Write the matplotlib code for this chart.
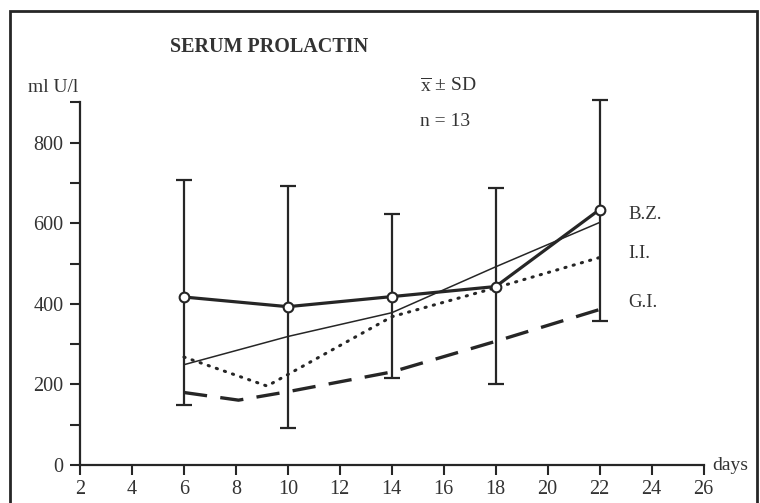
import matplotlib
matplotlib.use("Agg")
import matplotlib.pyplot as plt
from matplotlib.patches import Rectangle

plt.rcParams['font.family'] = ['Liberation Serif', 'DejaVu Serif']
plt.rcParams['mathtext.fontset'] = 'custom'
plt.rcParams['mathtext.rm'] = 'Liberation Serif'
plt.rcParams['mathtext.it'] = 'Liberation Serif:italic'

# ---- data ----
days = [6, 10, 14, 18, 22]
bz_mean = [417, 393, 418, 443, 634]
sd_upper = [708, 693, 622, 687, 905]
sd_lower = [150, 93, 217, 200, 357]

thin_days = [6, 10, 14, 18, 22]
thin_vals = [249, 319, 378, 492, 602]

ii_days = [6, 9.2, 14, 18, 22]
ii_vals = [268, 196, 368, 440, 515]

gi_days = [6, 8.1, 10, 14, 18, 22]
gi_vals = [180, 161, 182, 231, 307, 386]

x_ticks = list(range(2, 27, 2))
y_ticks = list(range(0, 901, 100))
y_labels = ['0', '', '200', '', '400', '', '600', '', '800', '']

series_labels = ['B.Z.', 'I.I.', 'G.I.']
label_y = [623, 525, 403]

INK = '#262626'
TXT = '#333333'

fig = plt.figure(figsize=(7.6, 5.03), dpi=100)
ax = fig.add_axes([0.1053, 0.0755, 0.8204, 0.7209])

# error bars
yerr = [[m - lo for m, lo in zip(bz_mean, sd_lower)],
        [hi - m for m, hi in zip(bz_mean, sd_upper)]]
eb = ax.errorbar(days, bz_mean, yerr=yerr, fmt='none', ecolor=INK,
                 elinewidth=1.6, capsize=6, capthick=1.6, zorder=2)
for artist in list(eb.lines[1]) + list(eb.lines[2]):
    artist.set_clip_on(False)

ax.plot(thin_days, thin_vals, color=INK, lw=1.1, zorder=3)
ax.plot(ii_days, ii_vals, color=INK, lw=2.2, linestyle=(0, (0.4, 2.4)),
        dash_capstyle='round', zorder=3)
ax.plot(gi_days, gi_vals, color=INK, lw=2.4, linestyle=(0, (7, 4)), zorder=3)
ax.plot(days, bz_mean, color=INK, lw=2.3, marker='o', markersize=7,
        markerfacecolor='white', markeredgecolor=INK, markeredgewidth=1.5,
        zorder=4, clip_on=False)

ax.set_xlim(2, 26)
ax.set_ylim(0, 900)
ax.spines['top'].set_visible(False)
ax.spines['right'].set_visible(False)
for s in ('left', 'bottom'):
    ax.spines[s].set_linewidth(1.6)
    ax.spines[s].set_color(INK)
ax.set_xticks(x_ticks)
ax.set_xticklabels([str(t) for t in x_ticks])
ax.set_yticks(y_ticks)
ax.set_yticklabels(y_labels)
ax.tick_params(axis='both', direction='out', length=7, width=1.5,
               color=INK, labelsize=14.5, labelcolor=TXT)
ax.tick_params(axis='y', pad=5)
ax.tick_params(axis='x', pad=4)

for lab, yv in zip(series_labels, label_y):
    ax.text(23.1, yv, lab, fontsize=13.5, color=TXT, va='center', ha='left')

fig.text(170 / 760, 1 - 47 / 503, 'SERUM PROLACTIN', fontsize=14.5,
         fontweight='bold', color=TXT, ha='left', va='center')
fig.text(28 / 760, 1 - 88 / 503, 'ml U/l', fontsize=14, color=TXT,
         ha='left', va='center')
fig.text(420 / 760, 1 - 86 / 503, r'$\overline{\mathrm{x}}$ $\pm$ SD',
         fontsize=14, color=TXT, ha='left', va='center')
fig.text(420 / 760, 1 - 122 / 503, 'n = 13', fontsize=14, color=TXT,
         ha='left', va='center')
fig.text(712 / 760, 1 - 465 / 503, 'days', fontsize=14, color=TXT,
         ha='left', va='center')

fig.patches.append(Rectangle((10 / 760, -0.02), 747 / 760, 1.02 - 11 / 503,
                             transform=fig.transFigure, fill=False,
                             edgecolor=INK, lw=2.0))

fig.savefig('out.png', dpi=100)
